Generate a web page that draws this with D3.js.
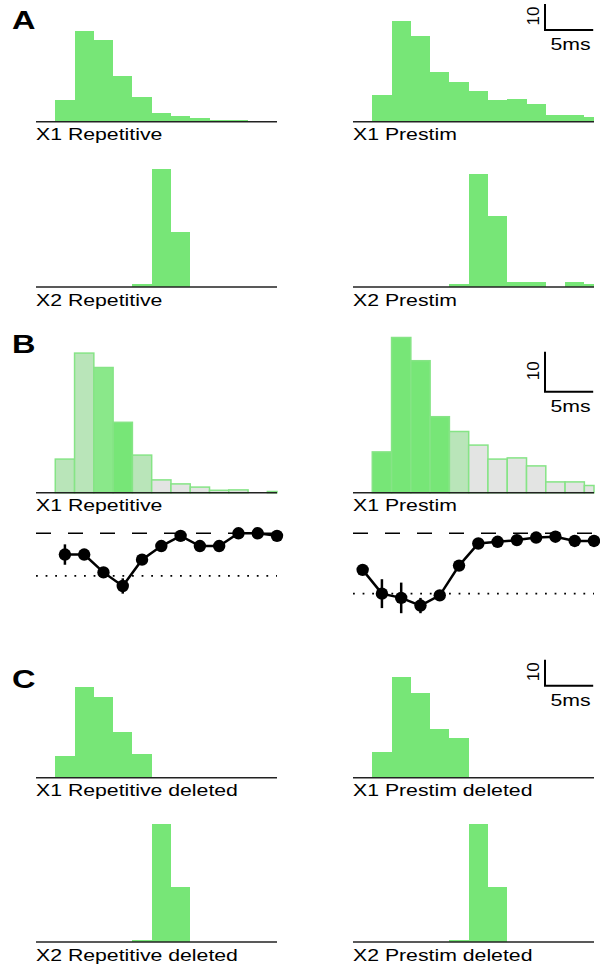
<!DOCTYPE html>
<html>
<head>
<meta charset="utf-8">
<script src="https://cdn.jsdelivr.net/npm/d3@7.9.0/dist/d3.min.js"></script>
<style>
  body { margin: 0; background: #fff; }
  text { font-family: "Liberation Sans", Arial, sans-serif; fill: #000; }
</style>
</head>
<body>
<svg id="fig" width="600" height="971"></svg>
<script>
// bin starts in ms (2 ms bins, axis runs 0-25 ms)
const binStarts = [0, 2, 4, 6, 8, 10, 12, 14, 16, 18, 20, 22, 24];

// spike counts per bin
const x1Repetitive = [0, 8.4, 34.9, 31.3, 17.6, 9.4, 3.2, 2.2, 1.4, 0.6, 0.7, 0, 0.3];
const x1Prestim    = [0, 10.2, 38.8, 33.0, 19.0, 15.3, 11.9, 8.4, 8.7, 6.7, 2.7, 2.7, 1.8];
const x2Repetitive = [0, 0, 0, 0, 0, 1.0, 45.4, 21.2, 0, 0, 0, 0, 0];
const x2Prestim    = [0, 0, 0, 0, 0, 1.0, 43.5, 27.2, 1.8, 1.8, 0, 1.8, 1.0];

const x1RepDeleted = [0, 8.3, 34.7, 30.9, 17.6, 9.1, 0.4, 0, 0, 0, 0, 0, 0];
const x1PreDeleted = [0, 9.9, 38.7, 32.6, 18.7, 15.3, 0.4, 0, 0, 0, 0, 0, 0];
const x2RepDeleted = [0, 0, 0, 0, 0, 0.8, 45.4, 21.2, 0, 0, 0, 0, 0];
const x2PreDeleted = [0, 0, 0, 0, 0, 0.8, 45.4, 21.2, 0, 0, 0, 0, 0];

// panel B: how strongly each bin is affected
const repShade = ['off', 'low', 'low', 'mid', 'high', 'low', 'off', 'off', 'off', 'off', 'off', 'off', 'off'];
const preShade = ['off', 'high', 'high', 'high', 'high', 'low', 'off', 'off', 'off', 'off', 'off', 'off', 'off'];

// panel B line plots (bin centres in ms, score, error)
const repCentres = [3, 5, 7, 9, 11, 13, 15, 17, 19, 21, 23, 25];
const repScore   = [0.75, 0.75, 0.54, 0.38, 0.69, 0.85, 0.97, 0.85, 0.85, 1.0, 1.0, 0.97];
const repErr     = [0.12, 0, 0.03, 0.09, 0, 0, 0, 0, 0, 0, 0, 0];
const preCentres = [1, 3, 5, 7, 9, 11, 13, 15, 17, 19, 21, 23, 25];
const preScore   = [0.57, 0.29, 0.24, 0.15, 0.27, 0.62, 0.88, 0.90, 0.92, 0.95, 0.96, 0.91, 0.91];
const preErr     = [0, 0.17, 0.18, 0.09, 0, 0, 0, 0, 0, 0, 0, 0, 0];
const controlLevel = 1.0;
const repChance = 0.5;
const preChance = 0.29;

const svg = d3.select('#fig');
const green = '#77e677';
const shadeColor = d3.scaleOrdinal()
  .domain(['high', 'mid', 'low', 'off'])
  .range([green, '#8ae88a', '#b9e5b9', '#e3e4e3']);

const stretch = 1.25;

function label(x, y, str, size, weight) {
  svg.append('text')
    .attr('transform', `translate(${x},${y}) scale(${stretch},1)`)
    .attr('font-size', size)
    .attr('font-weight', weight || 'normal')
    .text(str);
}

function makeX(x0) {
  return d3.scaleLinear().domain([0, 25]).range([x0, x0 + 241]);
}

function histogram(values, x0, base, pxPer10, name, shades) {
  const x = makeX(x0);
  const y = d3.scaleLinear().domain([0, 10]).range([base, base - pxPer10]);
  const g = svg.append('g');
  const bins = binStarts.map((s, i) => ({ s, e: Math.min(s + 2, 25), v: values[i], shade: shades ? shades[i] : null }))
    .filter((d) => d.v > 0);

  g.selectAll('rect')
    .data(bins)
    .join('rect')
    .attr('x', (d) => x(d.s))
    .attr('width', (d) => x(d.e) - x(d.s))
    .attr('y', (d) => y(d.v))
    .attr('height', (d) => base - y(d.v))
    .attr('fill', (d) => (d.shade ? shadeColor(d.shade) : green))
    .attr('stroke', shades ? '#86e486' : 'none')
    .attr('stroke-width', shades ? 1.5 : 0)
    .attr('shape-rendering', shades ? 'auto' : 'crispEdges');

  g.append('line')
    .attr('x1', x(0)).attr('x2', x(25))
    .attr('y1', base).attr('y2', base)
    .attr('stroke', '#222').attr('stroke-width', 1.6);

  label(x0, base + 18.5, name, 17);
  return { x, y };
}

function scaleBar(scales, cornerY) {
  const cx = 545;
  const len = scales.y(0) - scales.y(10);
  const wid = scales.x(5) - scales.x(0);
  svg.append('path')
    .attr('d', `M${cx},${cornerY - len}V${cornerY}H${cx + wid}`)
    .attr('fill', 'none').attr('stroke', '#000').attr('stroke-width', 2);
  svg.append('text')
    .attr('transform', `translate(538.5,${cornerY - len / 2 - 1}) rotate(-90)`)
    .attr('text-anchor', 'middle')
    .attr('font-size', 17)
    .text('10');
  label(550.5, cornerY + 20, '5ms', 17);
}

function linePlot(centres, score, err, chance, x0) {
  const x = makeX(x0);
  const y = d3.scaleLinear().domain([0, 1]).range([533.3 + 85, 533.3]);
  const g = svg.append('g');

  g.append('line')
    .attr('x1', x(0)).attr('x2', x(25))
    .attr('y1', y(controlLevel)).attr('y2', y(controlLevel))
    .attr('stroke', '#000').attr('stroke-width', 1.5)
    .attr('stroke-dasharray', '15,17');
  g.append('line')
    .attr('x1', x(0)).attr('x2', x(25))
    .attr('y1', y(chance)).attr('y2', y(chance))
    .attr('stroke', '#000').attr('stroke-width', 1.8)
    .attr('stroke-dasharray', '1.8,7.8');

  const pts = centres.map((c, i) => ({ c, v: score[i], e: err[i] }));

  g.selectAll('line.err')
    .data(pts.filter((d) => d.e > 0))
    .join('line')
    .attr('class', 'err')
    .attr('x1', (d) => x(d.c)).attr('x2', (d) => x(d.c))
    .attr('y1', (d) => y(d.v - d.e)).attr('y2', (d) => y(d.v + d.e))
    .attr('stroke', '#000').attr('stroke-width', 2.5);

  g.append('path')
    .datum(pts)
    .attr('d', d3.line().x((d) => x(d.c)).y((d) => y(d.v)))
    .attr('fill', 'none').attr('stroke', '#000').attr('stroke-width', 2.5);

  g.selectAll('circle')
    .data(pts)
    .join('circle')
    .attr('cx', (d) => x(d.c))
    .attr('cy', (d) => y(d.v))
    .attr('r', 6.2)
    .attr('fill', '#000');
}

// panel letters
label(12, 29, 'A', 26, 'bold');
label(12, 353, 'B', 26, 'bold');
label(12, 688, 'C', 26, 'bold');

// A
histogram(x1Repetitive, 36, 121.7, 26, 'X1 Repetitive');
const aScales = histogram(x1Prestim, 353, 121.7, 26, 'X1 Prestim');
histogram(x2Repetitive, 36, 287, 26, 'X2 Repetitive');
histogram(x2Prestim, 353, 287, 26, 'X2 Prestim');
scaleBar(aScales, 30);

// B
histogram(x1Repetitive, 36, 492.7, 40, 'X1 Repetitive', repShade);
const bScales = histogram(x1Prestim, 353, 492.7, 40, 'X1 Prestim', preShade);
scaleBar(bScales, 391.7);
linePlot(repCentres, repScore, repErr, repChance, 36);
linePlot(preCentres, preScore, preErr, preChance, 353);

// C
histogram(x1RepDeleted, 36, 777.7, 26, 'X1 Repetitive deleted');
const cScales = histogram(x1PreDeleted, 353, 777.7, 26, 'X1 Prestim deleted');
histogram(x2RepDeleted, 36, 942, 26, 'X2 Repetitive deleted');
histogram(x2PreDeleted, 353, 942, 26, 'X2 Prestim deleted');
scaleBar(cScales, 685.7);
</script>
</body>
</html>
